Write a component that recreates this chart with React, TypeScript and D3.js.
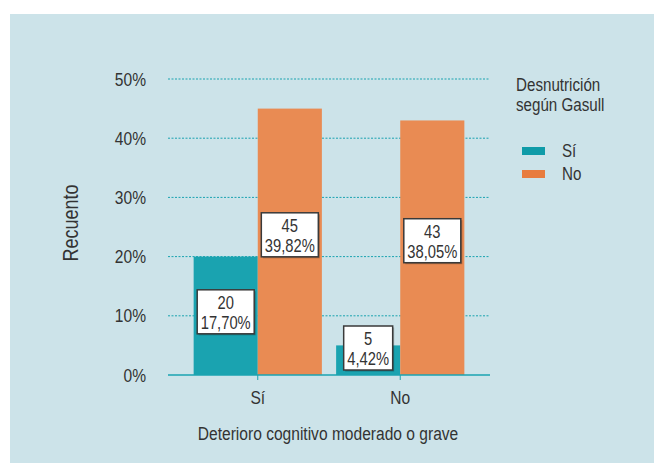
import React from "react";
import * as d3 from "d3";

// categories on the x axis
const categories = ["Sí", "No"];
// legend groups (Desnutrición según Gasull)
const groups = ["Sí", "No"];
// counts per category, per group
const countsSi = [20, 5];
const countsNo = [45, 43];
// percentage labels
const pctSi = ["17,70%", "4,42%"];
const pctNo = ["39,82%", "38,05%"];
const yTicks = [0, 10, 20, 30, 40, 50];

const W = 654;
const H = 463;
const FONT = "'Liberation Sans', Arial, sans-serif";
const TEXT = "#333333";
const TEAL = "#1aa3b0";
const ORANGE = "#e98b53";
const BG = "#cce3e9";

// condensed text: the reference uses a narrow face, so squeeze a regular one
function T({ x, y, anchor = "start", size = 19, rotate = 0, children }: any) {
  return (
    <text
      transform={`translate(${x},${y}) rotate(${rotate}) scale(0.82,1)`}
      dy="0.35em"
      textAnchor={anchor}
      fontSize={size}
      fill={TEXT}
    >
      {children}
    </text>
  );
}

export default function App() {
  const x0 = d3.scaleBand<string>().domain(categories).range([168, 490]).paddingInner(0.1).paddingOuter(0.18);
  const x1 = d3.scaleBand<string>().domain(groups).range([0, x0.bandwidth()]);
  const y = d3.scaleLinear().domain([0, 50]).range([375, 79]);
  const color = d3.scaleOrdinal<string, string>().domain(groups).range([TEAL, ORANGE]);

  const series = [
    { group: groups[0], counts: countsSi, pcts: pctSi },
    { group: groups[1], counts: countsNo, pcts: pctNo },
  ];

  return (
    <svg width={W} height={H} style={{ position: "absolute", left: 0, top: 0 }} fontFamily={FONT}>
      <rect x={10} y={14} width={W - 10} height={H - 14} fill={BG} />

      {/* grid */}
      {yTicks.filter((t) => t > 0).map((t) => (
        <line key={t} x1={168} x2={490} y1={y(t)} y2={y(t)} stroke={TEAL} strokeWidth={1} strokeDasharray="2,1.5" />
      ))}
      {yTicks.map((t) => (
        <T key={"l" + t} x={146} y={y(t)} anchor="end">
          {t}%
        </T>
      ))}

      {/* bars */}
      {series.map((s) =>
        categories.map((c, i) => (
          <rect
            key={s.group + c}
            x={x0(c)! + x1(s.group)!}
            y={y(s.counts[i])}
            width={x1.bandwidth()}
            height={y(0) - y(s.counts[i])}
            fill={color(s.group)}
          />
        ))
      )}

      {/* axis */}
      <line x1={168} x2={490} y1={y(0)} y2={y(0)} stroke={TEAL} strokeWidth={1.5} />
      {categories.map((c) => (
        <g key={"t" + c}>
          <line x1={x0(c)! + x0.bandwidth() / 2} x2={x0(c)! + x0.bandwidth() / 2} y1={y(0)} y2={y(0) + 5} stroke={TEAL} strokeWidth={1} />
          <T x={x0(c)! + x0.bandwidth() / 2} y={397} anchor="middle">
            {c}
          </T>
        </g>
      ))}

      {/* value boxes */}
      {series.map((s, si) =>
        categories.map((c, i) => {
          const v = s.counts[i];
          const bw = s.pcts[i].length > 5 ? 57 : 49;
          const bh = 44;
          const cx = x0(c)! + x1(s.group)! + x1.bandwidth() / 2;
          const cy = Math.min(si === 1 ? y(v / 2) - 7 : y(v / 2) - 4, y(0) - 5 - bh / 2);
          return (
            <g key={"b" + s.group + c}>
              <rect x={cx - bw / 2 + 1.5} y={cy - bh / 2 + 1.5} width={bw} height={bh} fill="#000" opacity={0.25} />
              <rect x={cx - bw / 2} y={cy - bh / 2} width={bw} height={bh} fill="#fff" stroke="#3a3a3a" strokeWidth={1.5} />
              <T x={cx} y={cy - 9.5} anchor="middle" size={18}>
                {v}
              </T>
              <T x={cx} y={cy + 10.5} anchor="middle" size={18}>
                {s.pcts[i]}
              </T>
            </g>
          );
        })
      )}

      {/* axis titles */}
      <T x={328} y={433} anchor="middle">
        Deterioro cognitivo moderado o grave
      </T>
      <T x={70} y={223} anchor="middle" size={22} rotate={-90}>
        Recuento
      </T>

      {/* legend */}
      <T x={516} y={85} size={18.5}>Desnutrición</T>
      <T x={516} y={105} size={18.5}>según Gasull</T>
      {groups.map((g, i) => (
        <g key={"lg" + g} transform={`translate(522, ${151 + i * 23})`}>
          <rect x={0} y={-4} width={23} height={8} fill={i === 0 ? "#0f9ba8" : "#e87c3e"} />
          <T x={40} y={0} size={18.5}>{g}</T>
        </g>
      ))}
    </svg>
  );
}
